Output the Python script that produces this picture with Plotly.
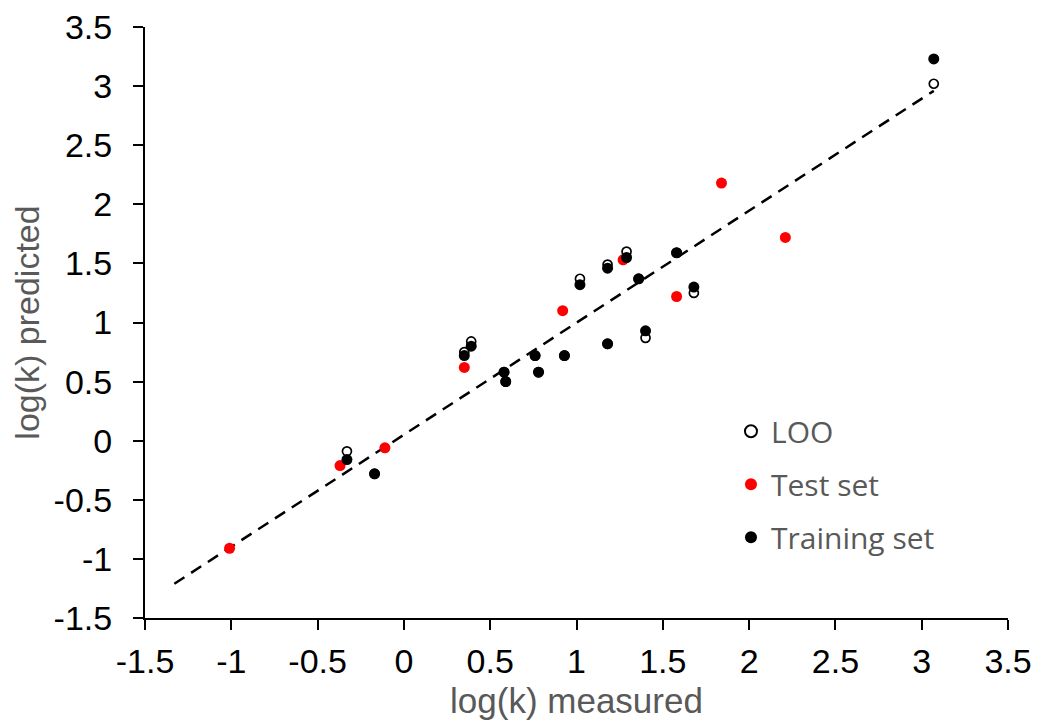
import plotly.graph_objects as go

# Training set (measured, predicted)
train_x = [3.07, 1.68, 1.58, 1.36, 1.40, 1.29, 1.18, 1.02, 1.18, 0.93, 0.78, 0.76, 0.58, 0.59, 0.39, 0.35, -0.33, -0.17]
train_y = [3.23, 1.30, 1.59, 1.37, 0.93, 1.55, 1.46, 1.32, 0.82, 0.72, 0.58, 0.72, 0.58, 0.50, 0.80, 0.72, -0.16, -0.28]
# Leave-one-out predictions for the training compounds
loo_y = [3.02, 1.25, 1.59, 1.37, 0.87, 1.60, 1.49, 1.37, 0.82, 0.72, 0.58, 0.72, 0.58, 0.50, 0.84, 0.75, -0.09, -0.28]
# Test set
test_x = [-1.01, -0.37, -0.11, 0.35, 0.92, 1.27, 1.58, 1.84, 2.21]
test_y = [-0.91, -0.21, -0.06, 0.62, 1.10, 1.53, 1.22, 2.18, 1.72]
# Trend line end points
line_x = [-1.33, 3.07]
line_y = [-1.21, 2.96]

tick_vals = [-1.5, -1, -0.5, 0, 0.5, 1, 1.5, 2, 2.5, 3, 3.5]
tick_text = ["-1.5", "-1", "-0.5", "0", "0.5", "1", "1.5", "2", "2.5", "3", "3.5"]

fig = go.Figure()
fig.add_trace(go.Scatter(x=line_x, y=line_y, mode="lines", showlegend=False,
                         line=dict(color="black", width=2.5, dash="12px,8px")))
fig.add_trace(go.Scatter(x=train_x, y=loo_y, mode="markers", name="LOO", legendgroup="a",
                         marker=dict(size=9, color="white", line=dict(color="black", width=1.7))))
fig.add_trace(go.Scatter(x=test_x, y=test_y, mode="markers", name="Test set", legendgroup="b",
                         marker=dict(size=11, color="#FF0000", line=dict(width=0))))
fig.add_trace(go.Scatter(x=train_x, y=train_y, mode="markers", name="Training set", legendgroup="c",
                         marker=dict(size=11, color="black", line=dict(width=0))))

axis_common = dict(
    range=[-1.5, 3.5], tickmode="array", tickvals=tick_vals, ticktext=tick_text,
    showgrid=False, zeroline=False, showline=True, linecolor="black", linewidth=2,
    ticks="outside", ticklen=10, tickwidth=2, tickcolor="black", automargin=False,
    tickfont=dict(family="Liberation Sans, Arial", size=34, color="black"),
)

fig.update_layout(
    width=1037, height=721,
    paper_bgcolor="white", plot_bgcolor="white",
    margin=dict(l=145, r=29, t=27, b=103),
    xaxis=dict(**axis_common, ticklabelstandoff=2,
               title=dict(text="log(k) measured", standoff=10,
                          font=dict(family="Liberation Sans, Arial", size=35, color="#595959"))),
    yaxis=dict(**axis_common, ticklabelstandoff=14,
               title=dict(text="log(k) predicted", standoff=4,
                          font=dict(family="Liberation Sans, Arial", size=34, color="#595959"))),
    legend=dict(x=0.679, y=0.36, xanchor="left", yanchor="top",
                font=dict(family="Open Sans", size=30, color="#595959"),
                tracegroupgap=11, traceorder="grouped", bgcolor="rgba(0,0,0,0)",
                itemsizing="constant"),
    showlegend=True,
)

fig.write_html("out.html")
